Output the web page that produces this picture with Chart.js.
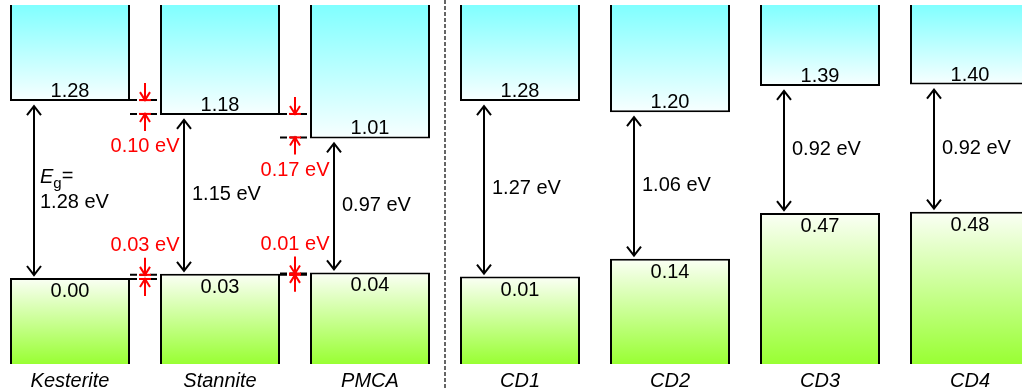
<!DOCTYPE html>
<html><head><meta charset="utf-8">
<script src="https://cdn.jsdelivr.net/npm/chart.js@4"></script>
<style>
html,body{margin:0;padding:0;background:#fff;overflow:hidden;width:1022px;height:392px}
#wrap{position:absolute;left:-5px;top:0;width:1050px;height:392px}
</style>
</head><body><div id="wrap"><canvas id="c"></canvas></div>
<script>
// ---- data ----
const categories = ['Kesterite','Stannite','PMCA','CD1','CD2','CD3','CD4'];
const cbm = [1.28, 1.18, 1.01, 1.28, 1.20, 1.39, 1.40];   // conduction band minimum (eV)
const vbm = [0.00, 0.03, 0.04, 0.01, 0.14, 0.47, 0.48];   // valence band maximum (eV)
const gapLabels = ['1.28 eV','1.15 eV','0.97 eV','1.27 eV','1.06 eV','0.92 eV','0.92 eV'];
const cbmOffsetLabels = ['0.10 eV','0.17 eV'];   // between neighbours 0-1, 1-2
const vbmOffsetLabels = ['0.03 eV','0.01 eV'];
const yRange = [-0.6223, 1.9754];
const bandTop = 3, bandBottom = -1;

const FONT = "'Liberation Sans', Arial, Helvetica, sans-serif";
const FS = 20;

function cbmFill(ctx){
  const ch = ctx.chart, a = ch.chartArea;
  if(!a || !ch.scales.y) return '#80ffff';
  const yb = ch.scales.y.getPixelForValue(cbm[ctx.dataIndex]);
  const g = ch.ctx.createLinearGradient(0, a.top, 0, yb);
  g.addColorStop(0, '#80ffff'); g.addColorStop(1, '#f8ffff');
  return g;
}
function vbmFill(ctx){
  const ch = ctx.chart, a = ch.chartArea;
  if(!a || !ch.scales.y) return '#99ff33';
  const yt = ch.scales.y.getPixelForValue(vbm[ctx.dataIndex]);
  const g = ch.ctx.createLinearGradient(0, yt, 0, a.bottom);
  g.addColorStop(0, '#fbfff6'); g.addColorStop(1, '#99ff33');
  return g;
}

function head(c, x, yTip, dir, hw, hl){ // dir: -1 pointing up, +1 pointing down
  c.beginPath();
  c.moveTo(x-hw, yTip - dir*hl); c.lineTo(x, yTip); c.lineTo(x+hw, yTip - dir*hl);
  c.stroke();
}

const annot = {
  id:'annot',
  afterDatasetsDraw(chart){
    const c = chart.ctx, xs = chart.scales.x, ys = chart.scales.y;
    const meta = chart.getDatasetMeta(0);
    c.save();
    // separator
    const sx = (xs.getPixelForValue(2)+xs.getPixelForValue(3))/2;
    c.strokeStyle = '#333'; c.lineWidth = 1.5; c.setLineDash([4,2]);
    c.beginPath(); c.moveTo(sx,0); c.lineTo(sx,388); c.stroke();
    c.setLineDash([]);

    c.lineJoin = 'miter'; c.lineCap = 'butt';
    categories.forEach((_, i) => {
      const xc = xs.getPixelForValue(i);
      const yc = ys.getPixelForValue(cbm[i]);
      const yv = ys.getPixelForValue(vbm[i]);
      c.fillStyle = '#000'; c.font = FS + 'px ' + FONT; c.textAlign = 'center'; c.textBaseline = 'alphabetic';
      c.fillText(cbm[i].toFixed(2), xc, yc - 4);
      c.fillText(vbm[i].toFixed(2), xc, yv + 19);
      // gap arrow
      const ax = xc - 36, t = yc + 5, b = yv - 3;
      c.strokeStyle = '#000'; c.lineWidth = 2;
      c.beginPath(); c.moveTo(ax, t + 1); c.lineTo(ax, b - 1); c.stroke();
      head(c, ax, t, -1, 7, 9);
      head(c, ax, b, 1, 7, 9);
      // gap label
      const mid = (yc + yv) / 2;
      c.textAlign = 'left'; c.textBaseline = 'middle';
      if(i === 0){
        c.font = 'italic ' + FS + 'px ' + FONT;
        c.fillText('E', ax + 6, mid - 12);
        const w = c.measureText('E').width;
        c.font = '15px ' + FONT;
        c.fillText('g', ax + 6 + w, mid - 6);
        const wg = c.measureText('g').width;
        c.font = FS + 'px ' + FONT;
        c.fillText('=', ax + 6 + w + wg, mid - 13);
        c.fillText(gapLabels[i], ax + 6, mid + 13);
      } else {
        c.font = FS + 'px ' + FONT;
        c.fillText(gapLabels[i], ax + 8, mid);
      }
    });

    // band offsets between neighbours
    const drawOffset = (vals, i, label, below) => {
      const j = i + 1;
      const xi = xs.getPixelForValue(i), xj = xs.getPixelForValue(j);
      const xm = (xi + xj) / 2;
      const xL = xi + meta.data[i].width / 2, xR = xj - meta.data[j].width / 2;
      const pi = ys.getPixelForValue(vals[i]) + (below ? -1 : 1);
      const pj = ys.getPixelForValue(vals[j]) + (below ? -1 : 1);
      c.strokeStyle = '#000'; c.lineWidth = 2; c.setLineDash([7,3]);
      c.beginPath(); c.moveTo(xL, pi); c.lineTo(xR, pi); c.stroke();
      c.beginPath(); c.moveTo(xL, pj); c.lineTo(xR, pj); c.stroke();
      c.setLineDash([]);
      const yU = Math.min(pi, pj), yLo = Math.max(pi, pj);
      c.strokeStyle = '#ff0000'; c.lineWidth = 2;
      c.beginPath(); c.moveTo(xm, yU - 17); c.lineTo(xm, yU - 1); c.stroke();
      head(c, xm, yU, 1, 5, 8);
      c.beginPath(); c.moveTo(xm - 6, yU); c.lineTo(xm + 6, yU); c.stroke();
      c.beginPath(); c.moveTo(xm, yLo + 17); c.lineTo(xm, yLo + 1); c.stroke();
      head(c, xm, yLo, -1, 5, 8);
      c.beginPath(); c.moveTo(xm - 6, yLo); c.lineTo(xm + 6, yLo); c.stroke();
      c.fillStyle = '#ff0000'; c.font = FS + 'px ' + FONT; c.textAlign = 'center'; c.textBaseline = 'middle';
      c.fillText(label, xm, below ? yLo + 33 : yU - 29);
    };
    cbmOffsetLabels.forEach((l, i) => drawOffset(cbm, i, l, true));
    vbmOffsetLabels.forEach((l, i) => drawOffset(vbm, i, l, false));
    c.restore();
  }
};

new Chart(document.getElementById('c'), {
  type: 'bar',
  data: {
    labels: categories,
    datasets: [
      { label: 'CBM', data: cbm.map(v => [v, bandTop]), grouped: false,
        backgroundColor: cbmFill, borderColor: '#000',
        borderWidth: {top: 0, left: 2, right: 2, bottom: 2}, borderSkipped: false,
        barPercentage: 0.8, categoryPercentage: 1, clip: 0 },
      { label: 'VBM', data: vbm.map(v => [bandBottom, v]), grouped: false,
        backgroundColor: vbmFill, borderColor: '#000',
        borderWidth: {top: 2, left: 2, right: 2, bottom: 0}, borderSkipped: false,
        barPercentage: 0.8, categoryPercentage: 1, clip: 0 }
    ]
  },
  options: {
    responsive: true, maintainAspectRatio: false, animation: false, devicePixelRatio: 1,
    layout: { padding: { top: 5, left: 0, right: 0, bottom: 0 } },
    plugins: { legend: { display: false }, tooltip: { enabled: false } },
    scales: {
      x: { grid: { display: false, drawTicks: false }, border: { display: false },
           ticks: { color: '#000', padding: 5, font: { family: FONT, size: FS, style: 'italic' } },
           afterFit(s){ s.height = 28; } },
      y: { display: false, min: yRange[0], max: yRange[1] }
    }
  },
  plugins: [annot]
});
</script>
</body></html>
